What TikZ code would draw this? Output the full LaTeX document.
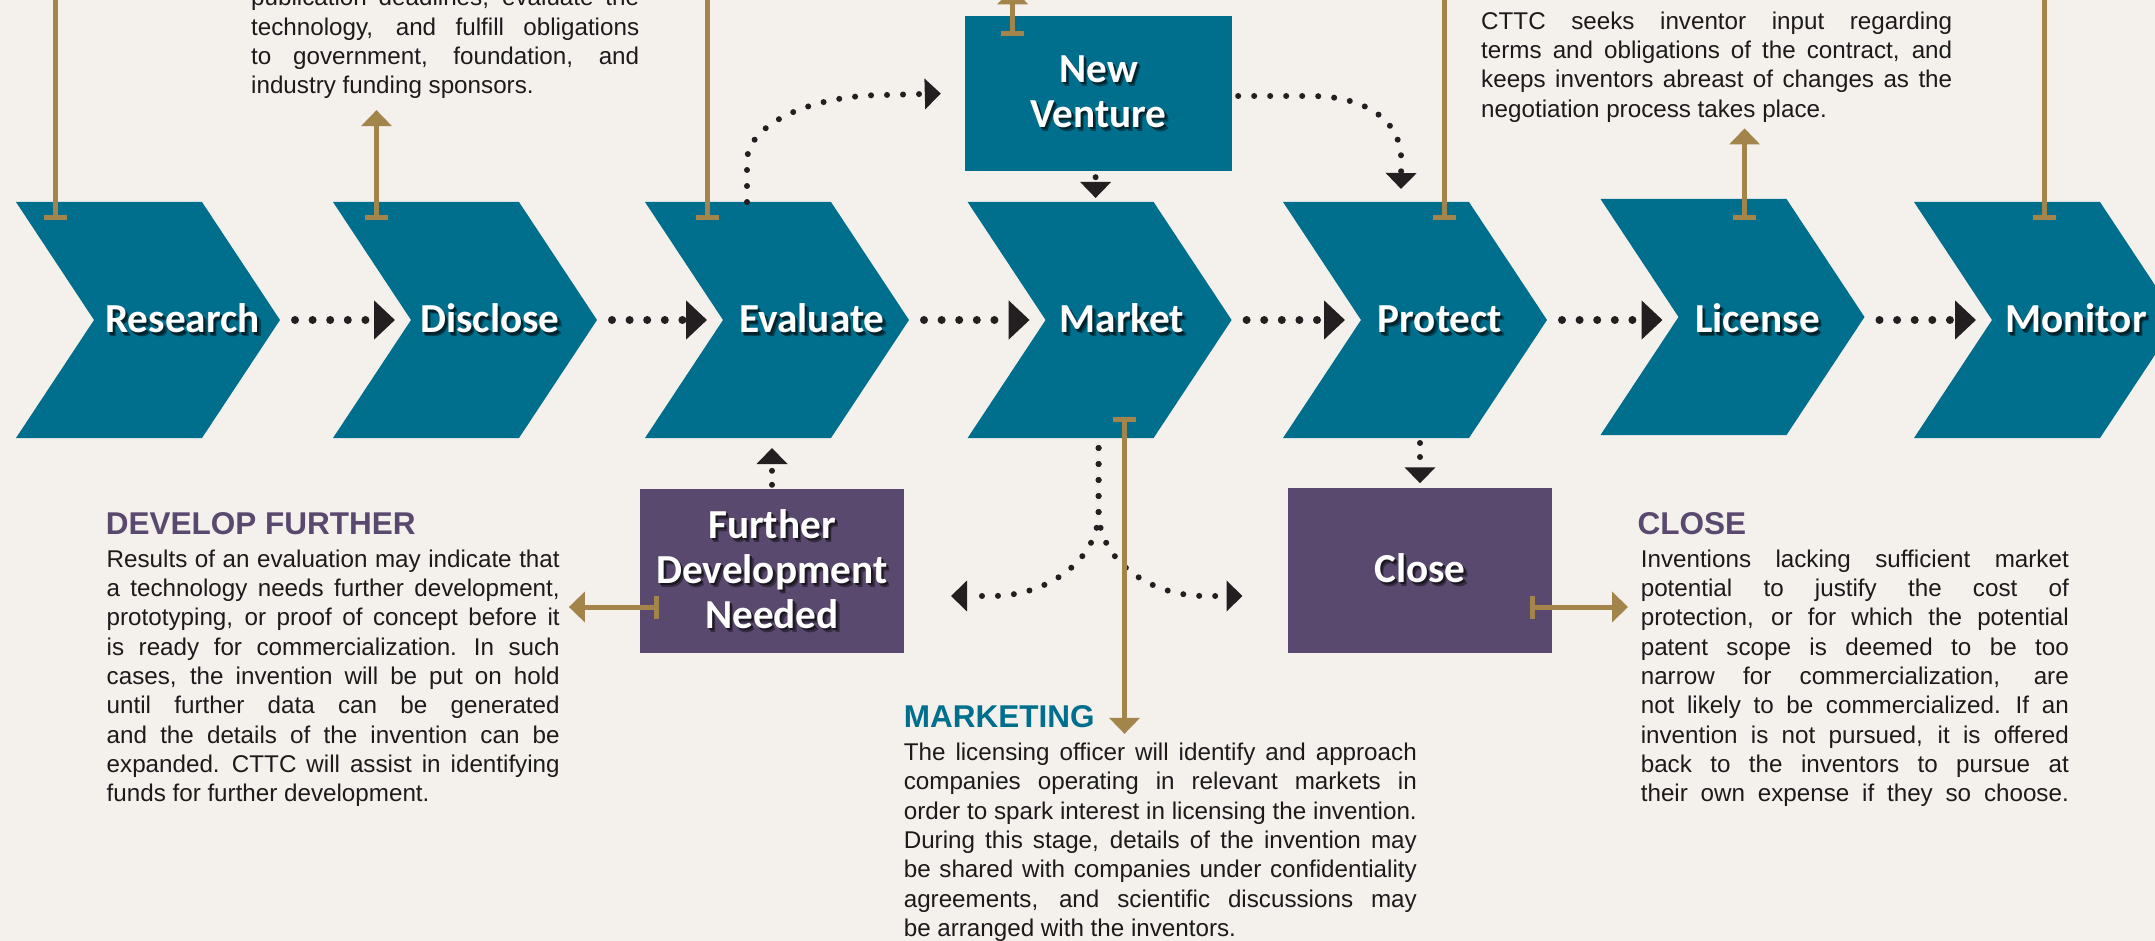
\documentclass[tikz,border=0pt]{standalone}
\usepackage{fontspec}
\setmainfont{Liberation Sans}
\newfontfamily\labelfont{Carlito}
\usetikzlibrary{arrows.meta,calc,positioning}
\definecolor{paper-color}{RGB}{244,241,236}
\definecolor{step-color}{RGB}{0,111,142}
\definecolor{hold-color}{RGB}{90,73,110}
\definecolor{link-color}{RGB}{163,132,75}
\definecolor{dot-color}{RGB}{35,31,32}
\definecolor{note-color}{RGB}{28,26,27}
\definecolor{step-shade-far}{RGB}{0,67,85}
\definecolor{step-shade-near}{RGB}{0,36,46}
\definecolor{hold-shade-far}{RGB}{54,44,66}
\definecolor{hold-shade-near}{RGB}{29,23,35}
\newlength{\notewidth}
\newcommand{\shadowed}[2]{\leavevmode
  \rlap{\hspace{3.5pt}\raisebox{-4pt}{\textcolor{#1-far}{#2}}}%
  \rlap{\hspace{2pt}\raisebox{-2.5pt}{\textcolor{#1-near}{#2}}}%
  #2}
\newcommand{\notespacing}{%
  \setlength{\spaceskip}{6.7pt plus 12pt minus 1.5pt}%
  \setlength{\xspaceskip}{9pt plus 12pt minus 1pt}}
\newcommand{\fillline}[1]{\makebox[\notewidth][s]{#1}\\}
\tikzset{
  steplabel/.style={anchor=base, inner sep=0, text=white,
    font=\labelfont\bfseries\fontsize{41.25}{45}\selectfont},
  stepbox/.style={fill=#1, inner sep=0, align=center, text=white,
    font=\labelfont\bfseries\fontsize{41.25}{45}\selectfont},
  notehead/.style={anchor=base west, inner sep=0, text=#1,
    font=\bfseries\fontsize{31.5}{36}\selectfont},
  notetext/.style={anchor=base west, inner sep=0, text=note-color, text width=#1,
    execute at begin node={\setlength{\notewidth}{#1}\notespacing},
    font=\fontsize{24.2}{29.3}\selectfont}
}
\tikzset{
  stepflow/.style={dot-color, line width=8pt, line cap=round,
    dash pattern=on 0pt off 17.6pt, -{Triangle[length=21pt,width=38pt]}},
  branchflow/.style={dot-color, line width=6pt, line cap=round,
    dash pattern=on 0pt off 16pt, -{Triangle[length=16pt,width=30pt]}},
  riseflow/.style={branchflow, dash pattern=on 0pt off 14pt},
  linkline/.style={link-color, line width=5pt},
  linkbar/.style={linkline, -{Bar[width=23pt]}},
  linkarrow/.style={linkline, {Bar[width=23pt]}-{Triangle[length=16pt,width=30pt]}}
}
\begin{document}
\begin{tikzpicture}[x=1pt,y=-1pt]
  \useasboundingbox (0,0) rectangle (2155,941);
  \clip (0,0) rectangle (2155,941);
  \fill[paper-color] (0,0) rectangle (2155,941);

  \foreach \name/\x/\dy/\tx/\txt in {research/16/0/182.5/Research, disclose/333/0/490/Disclose,
      evaluate/645/0/812/Evaluate, market/967.6/0/1122/Market, protect/1283/0/1440/Protect,
      license/1600.5/-3/1757.6/License, monitor/1914/0/2076/Monitor} {
    \fill[step-color] (\x,202+\dy) -- ++(186,0) -- ++(78,118) -- ++(-78,118) -- ++(-186,0) -- ++(78,-118) -- cycle;
    \node[steplabel] (\name) at (\tx,333) {\shadowed{step-shade}{\txt}};
    \coordinate (\name-tip) at (\x+264,320);
    \coordinate (\name-notch) at (\x+78,320);
    \coordinate (\name-top) at (\x+128,202+\dy);
    \coordinate (\name-bottom) at (\x+128,438+\dy);
  }
  \foreach \a/\b in {research/disclose, disclose/evaluate, evaluate/market,
      market/protect, protect/license, license/monitor}
    \draw[stepflow] ([xshift=15pt]\a-tip) -- ([xshift=-16pt]\b-notch);

  \node[stepbox=step-color, minimum width=267pt, minimum height=155pt] (nv) at (1098.5,93.5)
    {\shadowed{step-shade}{New}\\\shadowed{step-shade}{Venture}};
  \node[stepbox=hold-color, minimum width=264pt, minimum height=164pt] (further) at (772,571)
    {\shadowed{hold-shade}{Further}\\\shadowed{hold-shade}{Development}\\\shadowed{hold-shade}{Needed}};
  \node[stepbox=hold-color, minimum width=264pt, minimum height=165pt] (close) at (1420,570)
    {\shadowed{hold-shade}{Close}};

  \draw[branchflow] ([xshift=-26pt]evaluate-top) -- ++(0,-41)
    .. controls +(0,-36) and +(-75,0) .. ++(138,-66) -- ([xshift=-24pt]nv.west);
  \draw[branchflow] ([xshift=6pt,yshift=-2.5pt]nv.east) -- ++(72,0)
    .. controls +(55,0) and +(0,-40) .. ++(91,64) -- ([xshift=-10pt,yshift=13pt]protect-top);
  \draw[riseflow] ([yshift=-6pt]market-top |- nv.south) -- ([yshift=4pt]market-top);
  \draw[riseflow] ([yshift=4pt]further.north) -- ([yshift=-10pt]further.north |- evaluate-bottom);
  \draw[riseflow] ([yshift=-5pt]close.north |- protect-bottom) -- ([yshift=4pt]close.north);
  \coordinate (market-left) at (951,596);
  \coordinate (market-right) at (1242.5,596);
  \draw[branchflow] ([xshift=3pt,yshift=-10pt]market-bottom) -- ++(0,64)
    .. controls +(0,46) and +(58,0) .. ++(-106.6,84) -- (market-left);
  \draw[branchflow] ([xshift=3pt,yshift=-10pt]market-bottom) -- ++(0,64)
    .. controls +(0,46) and +(-58,0) .. ++(106.4,84) -- (market-right);

  \node[notetext=388pt] (disclose-text) at (251,6) {%
    \fillline{publication deadlines, evaluate the}
    \fillline{technology, and fulfill obligations}
    \fillline{to government, foundation, and}
    industry funding sponsors.};
  \node[notetext=471pt] (license-text) at (1481,0) {%
    \fillline{return for financial and other consideration.}
    \fillline{CTTC seeks inventor input regarding}
    \fillline{terms and obligations of the contract, and}
    \fillline{keeps inventors abreast of changes as the}
    negotiation process takes place.};
  \node[notehead=hold-color] (develop-head) at (105.6,534) {DEVELOP FURTHER};
  \node[notetext=453pt] (develop-text) at (106.5,567.3) {%
    \fillline{Results of an evaluation may indicate that}
    \fillline{a technology needs further development,}
    \fillline{prototyping, or proof of concept before it}
    \fillline{is ready for commercialization.  In such}
    \fillline{cases, the invention will be put on hold}
    \fillline{until further data can be generated}
    \fillline{and the details of the invention can be}
    \fillline{expanded.  CTTC will assist in identifying}
    funds for further development.};
  \node[notehead=step-color] (market-head) at (903.6,727) {MARKETING};
  \node[notetext=513pt] (market-text) at (903.6,760.6) {%
    \fillline{The licensing officer will identify and approach}
    \fillline{companies operating in relevant markets in}
    \fillline{order to spark interest in licensing the invention.}
    \fillline{During this stage, details of the invention may}
    \fillline{be shared with companies under confidentiality}
    \fillline{agreements, and scientific discussions may}
    be arranged with the inventors.};
  \node[notehead=hold-color] (close-head) at (1637.5,534) {CLOSE};
  \node[notetext=428pt] (close-text) at (1640.6,567.3) {%
    \fillline{Inventions lacking sufficient market}
    \fillline{potential to justify the cost of}
    \fillline{protection, or for which the potential}
    \fillline{patent scope is deemed to be too}
    \fillline{narrow for commercialization, are}
    \fillline{not likely to be commercialized.  If an}
    \fillline{invention is not pursued, it is offered}
    \fillline{back to the inventors to pursue at}
    \makebox[\notewidth][s]{their own expense if they so choose.}};

  \coordinate (top-edge) at (0,-20);
  \coordinate (research-bar) at (55,220);
  \coordinate (disclose-bar) at (376.5,220);
  \coordinate (evaluate-bar) at (707.5,220);
  \coordinate (protect-bar) at (1444.6,220);
  \coordinate (license-bar) at (1744.6,220);
  \coordinate (monitor-bar) at (2044,220);
  \coordinate (nv-bar) at (1012.7,36);
  \coordinate (market-bar) at (1124.5,417);
  \coordinate (further-bar) at (659,607);
  \coordinate (close-bar) at (1530,607);
  \foreach \name in {research, evaluate, protect, monitor}
    \draw[linkbar] (\name-bar |- top-edge) -- (\name-bar);
  \draw[linkarrow] (disclose-bar) -- ($(disclose-bar |- disclose-text.south)+(0,11)$);
  \draw[linkarrow] (license-bar) -- ($(license-bar |- license-text.south)+(0,6)$);
  \draw[linkarrow] (nv-bar) -- ($(nv-bar |- nv.north)+(0,-27.5)$);
  \draw[linkarrow] (market-bar) -- ($(market-bar |- market-text.north)+(0,-9)$);
  \draw[linkarrow] (further-bar) -- ($(further-bar -| develop-text.east)+(9,0)$);
  \draw[linkarrow] (close-bar) -- ($(close-bar -| close-text.west)+(-12.6,0)$);
\end{tikzpicture}
\end{document}
